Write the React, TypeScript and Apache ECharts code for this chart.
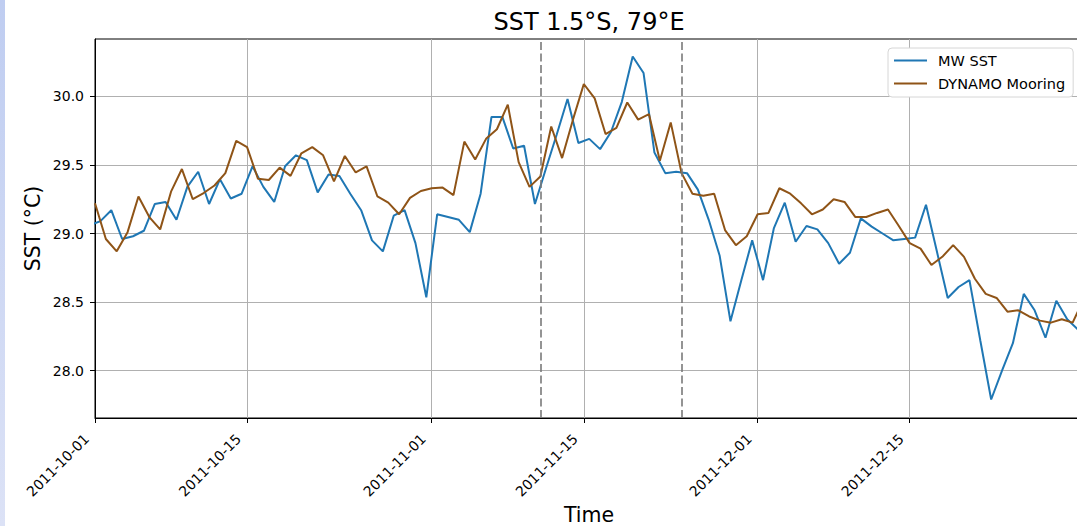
import React, { useEffect, useRef } from 'react';
import * as echarts from 'echarts';

// ---------------- data ----------------
const START = Date.UTC(2011, 9, 1);
const DAY = 86400000;
const dayOf = (s: string) => (Date.parse(s.length === 10 ? s + 'T00:00:00Z' : s) - START) / DAY;

const tickLabels = ['2011-10-01', '2011-10-15', '2011-11-01', '2011-11-15', '2011-12-01', '2011-12-15'];
const yTicks = [28.0, 28.5, 29.0, 29.5, 30.0];
const xStart = '2011-10-01';
const xEnd = '2011-12-31';
const yMin = 27.655;
const yMax = 30.418;

// MW SST, daily at 12:00 UTC, from 2011-09-30
const mwStart = '2011-09-30T12:00:00Z';
const mwSst = [
  29.06, 29.09, 29.17, 28.96, 28.98, 29.02, 29.215, 29.23, 29.1, 29.34,
  29.45, 29.215, 29.395, 29.255, 29.29, 29.49, 29.34, 29.23, 29.49, 29.57,
  29.535, 29.3, 29.43, 29.42, 29.29, 29.17, 28.95, 28.87, 29.13, 29.17,
  28.93, 28.535, 29.14, 29.12, 29.1, 29.01, 29.29, 29.85, 29.85, 29.62,
  29.64, 29.215, 29.47, 29.72, 29.98, 29.66, 29.69, 29.615, 29.74, 29.96,
  30.29, 30.17, 29.59, 29.44, 29.45, 29.44, 29.32, 29.1, 28.84, 28.36,
  28.66, 28.95, 28.66, 29.04, 29.225, 28.94, 29.055, 29.03, 28.93, 28.78,
  28.86, 29.11, 29.05, 29.0, 28.95, 28.96, 28.97, 29.21, 28.87, 28.53,
  28.61, 28.66, 28.22, 27.79, 28.0, 28.2, 28.56, 28.44, 28.24, 28.51,
  28.375, 28.3,
];

// DYNAMO mooring, daily at 00:00 UTC, from 2011-10-01
const mooringStart = '2011-10-01T00:00:00Z';
const mooring = [
  29.22, 28.96, 28.87, 29.01, 29.27, 29.12, 29.03, 29.305, 29.47, 29.25,
  29.295, 29.35, 29.44, 29.675, 29.63, 29.4, 29.39, 29.48, 29.42, 29.585,
  29.63, 29.57, 29.38, 29.565, 29.445, 29.49, 29.27, 29.225, 29.14, 29.26,
  29.31, 29.33, 29.335, 29.28, 29.67, 29.54, 29.69, 29.76, 29.94, 29.52,
  29.34, 29.415, 29.78, 29.55, 29.83, 30.09, 29.985, 29.725, 29.77, 29.955,
  29.83, 29.87, 29.53, 29.81, 29.44, 29.29, 29.275, 29.29, 29.025, 28.915,
  28.98, 29.14, 29.15, 29.33, 29.29, 29.22, 29.14, 29.175, 29.25, 29.23,
  29.12, 29.12, 29.15, 29.175, 29.055, 28.93, 28.89, 28.77, 28.83, 28.915,
  28.83, 28.67, 28.56, 28.53, 28.43, 28.44, 28.395, 28.365, 28.35, 28.375,
  28.35, 28.52,
];

const eventDates = ['2011-11-11', '2011-11-24'];

// ---------------- chart ----------------
const FONT = 'DejaVu Sans';

export default function App() {
  const ref = useRef<HTMLDivElement>(null);

  useEffect(() => {
    if (!ref.current) return;
    const chart = echarts.init(ref.current, undefined, { renderer: 'svg' });
    const mwData = mwSst.map((v, i) => [dayOf(mwStart) + i, v]);
    const moorData = mooring.map((v, i) => [dayOf(mooringStart) + i, v]);
    const tickDays = tickLabels.map((t) => dayOf(t));

    chart.setOption({
      animation: false,
      grid: {
        left: 95,
        top: 39,
        width: 988.5,
        height: 379,
        show: true,
        borderColor: '#000',
        borderWidth: 1,
        backgroundColor: 'transparent',
      },
      legend: {
        orient: 'vertical',
        left: 888,
        top: 48,
        data: ['MW SST', 'DYNAMO Mooring'],
        itemWidth: 33,
        itemHeight: 14,
        itemGap: 8,
        padding: [5, 8, 6, 5],
        backgroundColor: '#fff',
        borderColor: '#d6d6d6',
        borderWidth: 1,
        borderRadius: 4,
        itemStyle: { opacity: 0 },
        textStyle: { fontFamily: FONT, fontSize: 14.5, color: '#000', padding: [0, 0, 0, 6] },
      },
      xAxis: {
        type: 'value',
        min: dayOf(xStart),
        max: dayOf(xEnd),
        axisLine: { show: true, lineStyle: { color: '#000', width: 1 } },
        axisTick: { show: true, length: 5, lineStyle: { color: '#000' }, customValues: tickDays },
        axisLabel: {
          customValues: tickDays,
          rotate: 45,
          margin: 10,
          padding: [0, 12, 0, 0],
          fontFamily: FONT,
          fontSize: 14,
          color: '#000',
          formatter: (v: number) => {
            const i = tickDays.findIndex((d) => Math.abs(d - v) < 1e-6);
            return i >= 0 ? tickLabels[i] : '';
          },
        },
        splitLine: { show: true, lineStyle: { color: '#b0b0b0', width: 1 } },
      },
      yAxis: {
        type: 'value',
        min: yMin,
        max: yMax,
        axisLine: { show: true, lineStyle: { color: '#000', width: 1 } },
        axisTick: { show: true, length: 5, lineStyle: { color: '#000' }, customValues: yTicks },
        axisLabel: {
          customValues: yTicks,
          margin: 11,
          fontFamily: FONT,
          fontSize: 14,
          color: '#000',
          formatter: (v: number) => v.toFixed(1),
        },
        splitLine: { show: true, lineStyle: { color: '#b0b0b0', width: 1 } },
      },
      series: [
        {
          name: 'MW SST',
          type: 'line',
          data: mwData,
          showSymbol: false,
          symbol: 'none',
          clip: true,
          lineStyle: { color: '#1f77b4', width: 2 },
          itemStyle: { color: '#1f77b4' },
        },
        {
          name: 'DYNAMO Mooring',
          type: 'line',
          data: moorData,
          showSymbol: false,
          symbol: 'none',
          clip: true,
          lineStyle: { color: '#8f5417', width: 2 },
          itemStyle: { color: '#8f5417' },
          markLine: {
            silent: true,
            symbol: ['none', 'none'],
            label: { show: false },
            lineStyle: { color: '#7a7a7a', type: [8, 3.5], width: 1.6 },
            data: eventDates.map((d) => ({ xAxis: dayOf(d) })),
          },
        },
      ],
      graphic: [
        {
          type: 'rect',
          shape: { x: 0, y: 0, width: 5, height: 526 },
          style: {
            fill: new echarts.graphic.LinearGradient(0, 0, 0, 1, [
              { offset: 0, color: '#bfcdf1' },
              { offset: 1, color: '#dce2f6' },
            ]),
          },
        },
        {
          type: 'text',
          x: 589,
          y: 22,
          style: { text: 'SST 1.5°S, 79°E', font: `24px "${FONT}"`, fill: '#000', align: 'center', verticalAlign: 'middle' },
        },
        {
          type: 'text',
          x: 32.5,
          y: 228.5,
          rotation: Math.PI / 2,
          style: { text: 'SST (°C)', font: `20.5px "${FONT}"`, fill: '#000', align: 'center', verticalAlign: 'middle' },
        },
        {
          type: 'text',
          x: 589,
          y: 515,
          style: { text: 'Time', font: `20.5px "${FONT}"`, fill: '#000', align: 'center', verticalAlign: 'middle' },
        },
      ],
    });
    return () => chart.dispose();
  }, []);

  return (
    <div style={{ position: 'fixed', left: 0, top: 0, width: 1077, height: 526, overflow: 'hidden', background: '#fff' }}>
      <div ref={ref} style={{ width: 1100, height: 526 }} />
    </div>
  );
}
